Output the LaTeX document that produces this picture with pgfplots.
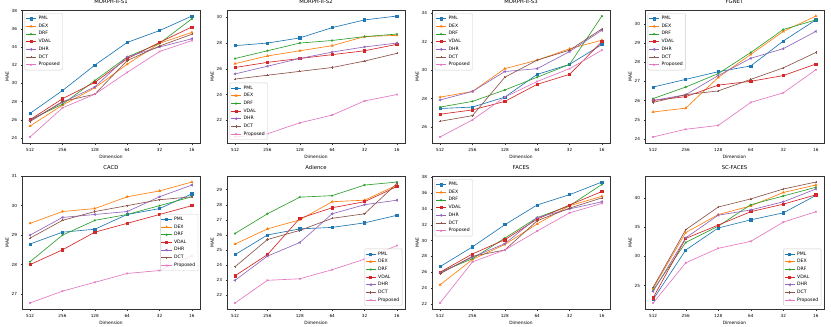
\documentclass[border=0pt]{standalone}
\usepackage{fontspec}
\setmainfont{DejaVu Sans}
\usepackage{pgfplots}
\usepackage{pgfplotstable}
\pgfplotsset{compat=1.18}

\definecolor{cPML}{HTML}{1F77B4}
\definecolor{cDEX}{HTML}{FF7F0E}
\definecolor{cDRF}{HTML}{2CA02C}
\definecolor{cVDAL}{HTML}{D62728}
\definecolor{cDHR}{HTML}{9467BD}
\definecolor{cDCT}{HTML}{8C564B}
\definecolor{cPro}{HTML}{E377C2}

% MAE per method, rows = dimension 512,256,128,64,32,16
\pgfplotstableread{
i PML DEX DRF VDAL DHR DCT Pro
0 26.7 25.3 26.0 26.0 25.9 25.8 24.1
1 29.2 27.6 27.7 28.3 27.9 28.0 27.3
2 32.0 29.5 30.3 30.1 29.6 28.8 28.8
3 34.5 32.1 32.9 32.7 32.9 32.5 31.2
4 35.8 34.4 34.4 34.5 34.0 34.1 33.5
5 37.4 35.6 37.1 36.2 34.9 35.4 34.7
}\morphA
\pgfplotstableread{
i PML DEX DRF VDAL DHR DCT Pro
0 27.8 26.4 26.8 26.1 25.6 25.2 20.7
1 28.0 27.0 27.4 26.5 26.2 25.5 20.95
2 28.4 27.4 28.0 26.8 26.8 25.8 21.8
3 29.2 27.8 28.2 27.1 27.3 26.1 22.4
4 29.8 28.5 28.5 27.4 27.7 26.6 23.5
5 30.1 28.6 28.7 27.9 28.0 27.2 24.0
}\morphB
\pgfplotstableread{
i PML DEX DRF VDAL DHR DCT Pro
0 27.3 28.1 27.4 26.9 27.9 26.4 25.3
1 27.4 28.5 27.8 27.2 28.5 26.8 26.5
2 28.1 30.1 28.6 27.8 29.9 29.5 28.1
3 29.7 30.7 29.5 29.0 30.1 30.7 29.2
4 30.4 31.5 30.4 29.7 31.3 31.4 30.1
5 31.8 32.1 33.8 32.0 32.8 32.9 31.4
}\morphC
\pgfplotstableread{
i PML DEX DRF VDAL DHR DCT Pro
0 26.7 25.4 26.1 26.0 26.0 25.9 24.1
1 27.1 25.6 26.7 26.2 26.3 26.3 24.5
2 27.5 27.2 27.4 26.8 27.3 26.5 24.7
3 27.8 28.4 28.5 27.0 28.2 27.1 25.9
4 29.1 29.6 29.7 27.3 28.7 27.7 26.4
5 30.2 30.4 30.2 27.9 29.6 28.5 27.6
}\fgnet
\pgfplotstableread{
i PML DEX DRF VDAL DHR DCT Pro
0 28.7 29.4 28.1 28.0 29.0 28.9 26.7
1 29.1 29.8 29.0 28.5 29.6 29.5 27.1
2 29.2 29.9 29.5 29.1 29.7 29.8 27.4
3 29.7 30.3 29.7 29.4 29.8 30.0 27.7
4 29.9 30.5 30.0 29.7 30.3 30.2 27.8
5 30.4 30.8 30.3 30.0 30.7 30.3 28.3
}\cacd
\pgfplotstableread{
i PML DEX DRF VDAL DHR DCT Pro
0 24.7 25.4 26.1 23.3 23.0 23.9 21.5
1 26.0 26.4 27.4 24.7 24.6 25.7 23.0
2 26.4 27.0 28.5 27.1 25.5 26.3 23.1
3 26.5 28.2 28.6 27.8 27.4 27.1 23.7
4 26.8 28.3 29.3 28.2 28.0 27.4 24.4
5 27.3 29.3 29.5 29.2 28.3 29.4 25.3
}\adience
\pgfplotstableread{
i PML DEX DRF VDAL DHR DCT Pro
0 26.7 24.4 26.0 26.0 25.9 25.8 22.1
1 29.2 27.6 27.7 28.3 27.9 28.0 27.3
2 32.0 29.5 30.3 30.1 29.6 28.8 28.8
3 34.5 32.1 32.9 32.7 32.9 32.5 31.2
4 35.8 34.4 34.4 34.5 34.0 34.1 33.5
5 37.4 35.6 37.1 36.2 34.9 35.4 34.7
}\faces
\pgfplotstableread{
i PML DEX DRF VDAL DHR DCT Pro
0 22.6 24.5 24.2 22.9 24.0 24.7 22.0
1 31.1 34.1 32.4 33.1 33.2 34.6 28.9
2 34.9 37.2 35.2 35.4 37.1 38.5 31.4
3 36.3 38.7 38.9 37.7 38.0 39.9 32.6
4 37.5 41.0 40.4 39.0 39.4 41.6 35.9
5 40.5 42.3 41.9 40.6 41.6 42.8 37.7
}\scfaces

\pgfplotscreateplotcyclelist{mpl}{
  {cPML, mark=square*},
  {cDEX, mark=triangle*},
  {cDRF, mark=star},
  {cVDAL, mark=square*},
  {cDHR, mark=triangle*, every mark/.append style={rotate=90}},
  {cDCT, mark=+},
  {cPro, mark=x}}

\pgfplotsset{
  sub/.style={
    scale only axis, width=178pt, height=133pt,
    xmin=-0.25, xmax=5.25, xtick={0,...,5},
    xticklabels={512,256,128,64,32,16},
    enlarge y limits=0.05,
    axis line style={black!80, line width=0.4pt},
    tick align=outside, xtick pos=bottom, ytick pos=left,
    major tick length=1.5pt,
    tick style={black!80, line width=0.3pt},
    tick label style={font=\fontsize{4.2}{5}\selectfont},
    /pgf/number format/assume math mode=true,
    label style={font=\fontsize{4.4}{5}\selectfont},
    xlabel={Dimension}, ylabel={MAE},
    xlabel style={yshift=3pt}, ylabel style={yshift=-4pt},
    title style={font=\fontsize{5.3}{6}\selectfont, yshift=-3.5pt},
    cycle list name=mpl,
    every axis plot/.append style={line width=0.65pt, mark size=1.1pt},
    legend cell align=left,
    legend style={font=\fontsize{4.6}{5.4}\selectfont, draw=black!20,
      rounded corners=1pt, fill=white, fill opacity=0.8, text opacity=1,
      inner sep=0.8pt, row sep=-1.2pt},
    legend image code/.code={\draw[mark repeat=2,mark phase=2]
      plot coordinates {(0cm,0cm) (0.18cm,0cm) (0.36cm,0cm)};},
  },
  UL/.style={legend style={at={(0.015,0.975)}, anchor=north west}},
  LL/.style={legend style={at={(0.015,0.025)}, anchor=south west}},
  CR/.style={legend style={at={(0.99,0.5)}, anchor=east}},
  LR/.style={legend style={at={(0.985,0.025)}, anchor=south east}},
}

\newcommand\allseries[1]{%
  \addplot table[x=i,y=PML]{#1};
  \addplot table[x=i,y=DEX]{#1};
  \addplot table[x=i,y=DRF]{#1};
  \addplot table[x=i,y=VDAL]{#1};
  \addplot table[x=i,y=DHR]{#1};
  \addplot table[x=i,y=DCT]{#1};
  \addplot table[x=i,y=Pro]{#1};
  \legend{PML,DEX,DRF,VDAL,DHR,DCT,Proposed}}

\begin{document}
\begin{tikzpicture}
\useasboundingbox (0,0) rectangle (831pt,-327pt);

\begin{axis}[sub, UL, at={(22pt,-10pt)}, anchor=north west,
  title={MORPH-II-S1}, ytick={24,26,...,38}]
\allseries{\morphA}
\end{axis}

\begin{axis}[sub, LL, at={(227pt,-10pt)}, anchor=north west,
  title={MORPH-II-S2}, ytick={22,24,...,30}]
\allseries{\morphB}
\end{axis}

\begin{axis}[sub, UL, at={(432pt,-10pt)}, anchor=north west,
  title={MORPH-II-S3}, ytick={26,28,...,34}]
\allseries{\morphC}
\end{axis}

\begin{axis}[sub, UL, at={(645pt,-10pt)}, anchor=north west,
  width=179pt, title={FGNET}, ytick={24,...,30}]
\allseries{\fgnet}
\end{axis}

\begin{axis}[sub, CR, at={(22pt,-176pt)}, anchor=north west,
  title={CACD}, ytick={27,...,31}]
\allseries{\cacd}
\end{axis}

\begin{axis}[sub, LR, at={(227pt,-176pt)}, anchor=north west,
  title={Adience}, ytick={22,...,29}]
\allseries{\adience}
\end{axis}

\begin{axis}[sub, UL, at={(432pt,-176pt)}, anchor=north west,
  title={FACES}, ytick={22,24,...,38}]
\allseries{\faces}
\end{axis}

\begin{axis}[sub, LR, at={(645pt,-176pt)}, anchor=north west,
  width=179pt, title={SC-FACES}, ytick={25,30,...,40}]
\allseries{\scfaces}
\end{axis}
\end{tikzpicture}
\end{document}
